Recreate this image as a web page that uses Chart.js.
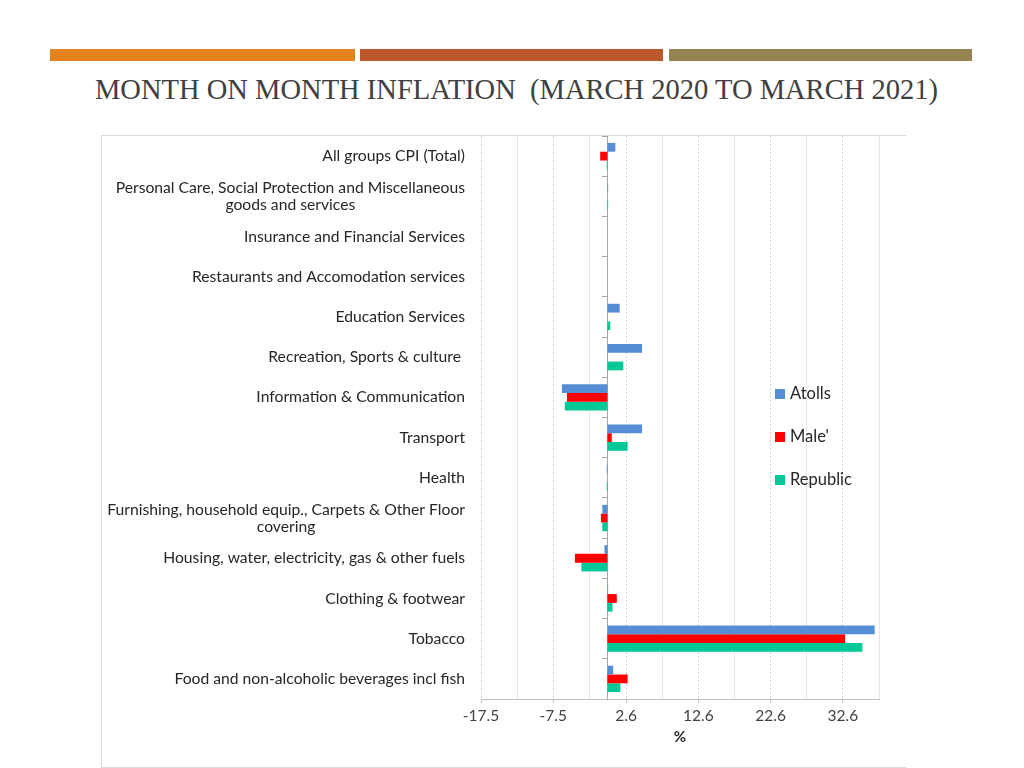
<!DOCTYPE html>
<html>
<head>
<meta charset="utf-8">
<script src="https://cdn.jsdelivr.net/npm/chart.js@4/dist/chart.umd.min.js"></script>
<style>
  body { margin: 0; width: 1024px; height: 768px; background: #fff; position: relative; overflow: hidden; }
  .strip { position: absolute; top: 49px; height: 12px; }
  #title { position: absolute; left: 95px; top: 74px; font-family: "Liberation Serif", serif; font-size: 30px; line-height: 30px; color: #404040; white-space: pre; transform: scaleX(0.951); transform-origin: 0 0; }
  #frame { position: absolute; left: 101px; top: 135px; width: 804px; height: 631px; border-top: 1px solid #d9d9d9; border-left: 1px solid #d9d9d9; border-bottom: 1px solid #d9d9d9; }
  #chartBox { position: absolute; left: 101px; top: 136px; }
  #legend { position: absolute; left: 775px; top: 383px; font-family: Lato, sans-serif; font-size: 16.5px; color: #262626; }
  #legend div { height: 43px; display: flex; align-items: flex-start; }
  #legend span.sw { display: inline-block; width: 10px; height: 10px; margin: 6px 5px 0 0; }
</style>
</head>
<body>
<div class="strip" style="left:50px;width:305px;background:#e3831b"></div>
<div class="strip" style="left:360px;width:303px;background:#bb582d"></div>
<div class="strip" style="left:669px;width:303px;background:#958354"></div>
<div id="title">MONTH ON MONTH INFLATION  (MARCH 2020 TO MARCH 2021)</div>
<div id="frame"></div>
<div id="chartBox"><canvas id="cpiChart" width="804" height="631"></canvas></div>
<div id="legend"></div>
<script>
// 카테고리 (위에서 아래 순서)
const categories = [
    'All groups CPI (Total)',
    ['Personal Care, Social Protection and Miscellaneous', 'goods and services'],
    'Insurance and Financial Services',
    'Restaurants and Accomodation services',
    'Education Services',
    'Recreation, Sports & culture ',
    'Information & Communication',
    'Transport',
    'Health',
    ['Furnishing, household equip., Carpets & Other Floor', 'covering'],
    'Housing, water, electricity, gas & other fuels',
    'Clothing & footwear',
    'Tobacco',
    'Food and non-alcoholic beverages incl fish'
];

// 시리즈 값 (%)
const atolls   = [1.1, 0.1, 0, 0, 1.7, 4.8, -6.3, 4.8, -0.1, -0.7, -0.4, 0.1, 37.0, 0.8];
const male     = [-1.0, 0, 0, 0, 0, 0, -5.6, 0.6, 0, -0.9, -4.5, 1.3, 32.9, 2.8];
const republic = [-0.1, 0.1, 0, 0, 0.4, 2.2, -5.9, 2.8, -0.1, -0.7, -3.6, 0.7, 35.3, 1.8];

const seriesNames  = ['Atolls', "Male'", 'Republic'];
const seriesColors = ['#558ed5', '#ff0000', '#00c896'];

// x축 눈금 라벨
const xTickLabels = [-17.5, -7.5, 2.6, 12.6, 22.6, 32.6];
const xMin = -17.5;
const xMax = 37.6;

// 보조 눈금선 (라벨 사이 중간값)
const xMinor = xTickLabels.map((v, i) => i < xTickLabels.length - 1 ? (v + xTickLabels[i + 1]) / 2 : xMax);
const xGrid = xTickLabels.concat(xMinor).sort((a, b) => a - b);
const isMajor = v => xTickLabels.some(t => Math.abs(t - v) < 1e-9);

// 범례 (HTML)
const legend = document.getElementById('legend');
seriesNames.forEach((name, i) => {
    const row = document.createElement('div');
    row.innerHTML = '<span class="sw" style="background:' + seriesColors[i] + '"></span>' + name;
    legend.appendChild(row);
});

// 카테고리 라벨: 여러 줄은 가운데 정렬, 블록은 오른쪽 정렬
const categoryLabels = {
    id: 'categoryLabels',
    afterDraw(chart) {
        const { ctx, scales: { y } } = chart;
        ctx.save();
        ctx.font = '15.7px Lato';
        ctx.fillStyle = '#262626';
        ctx.textAlign = 'center';
        ctx.textBaseline = 'middle';
        const right = y.right - 16;
        categories.forEach((lab, i) => {
            const lines = [].concat(lab);
            const w = Math.max(...lines.map(l => ctx.measureText(l).width));
            const cy = y.getPixelForValue(i);
            lines.forEach((l, j) => {
                ctx.fillText(l, right - w / 2, cy + (j - (lines.length - 1) / 2) * 17);
            });
        });
        ctx.restore();
    }
};

const datasets = [atolls, male, republic].map((vals, i) => ({
    label: seriesNames[i],
    data: vals,
    backgroundColor: seriesColors[i],
    borderWidth: 0,
    barPercentage: 1,
    categoryPercentage: 0.655
}));

new Chart(document.getElementById('cpiChart'), {
    type: 'bar',
    data: { labels: categories, datasets: datasets },
    options: {
        indexAxis: 'y',
        responsive: false,
        animation: false,
        layout: { padding: { left: 0, right: 26, top: 0, bottom: 21 } },
        plugins: { legend: { display: false }, tooltip: { enabled: false } },
        scales: {
            x: {
                min: xMin,
                max: xMax,
                afterBuildTicks: s => { s.ticks = xGrid.map(v => ({ value: v })); },
                afterFit: s => { s.height = 47; },
                grid: {
                    color: c => c.tick && isMajor(c.tick.value) ? '#d4d4d4' : '#e6e6e6',
                    tickColor: c => c.tick && isMajor(c.tick.value) ? '#bfbfbf' : 'rgba(0,0,0,0)',
                    tickLength: 4
                },
                border: {
                    color: '#bfbfbf',
                    dash: c => c.tick && isMajor(c.tick.value) ? [2, 2] : []
                },
                ticks: {
                    autoSkip: false,
                    maxRotation: 0,
                    padding: 4,
                    color: '#404040',
                    font: { family: 'Lato', size: 15.5 },
                    callback: v => isMajor(v) ? v.toFixed(1) : ''
                },
                title: {
                    display: true,
                    text: '%',
                    color: '#262626',
                    padding: 0,
                    font: { family: 'Lato', size: 15, weight: 'bold' }
                }
            },
            y: {
                grid: { display: false },
                border: { display: false },
                ticks: { display: false },
                afterFit: s => { s.width = 380; }
            },
            // 0 위치의 세로 축선과 눈금
            y2: {
                type: 'category',
                position: { x: 0 },
                offset: true,
                grid: { drawOnChartArea: false, offset: true, tickLength: 5, tickColor: '#a6a6a6' },
                border: { color: '#a6a6a6' },
                ticks: { display: false }
            }
        }
    },
    plugins: [categoryLabels]
});
</script>
</body>
</html>
